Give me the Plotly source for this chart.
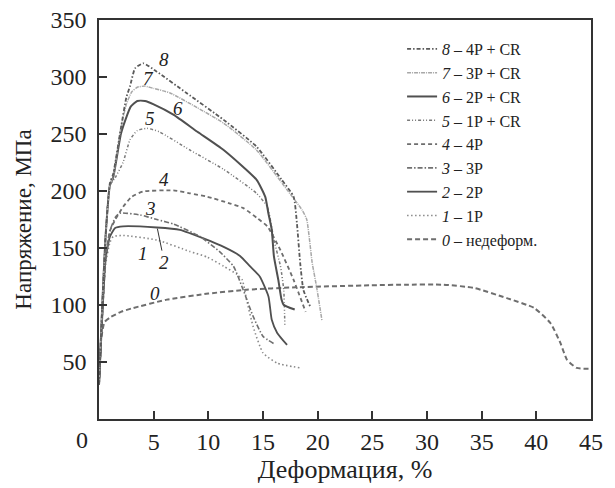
import plotly.graph_objects as go

# ---- data (strain %, stress MPa) ----
x0 = [0, 0.2, 0.5, 1, 2, 3, 6.2, 10, 13.5, 18, 24.8, 28, 31.5, 34.3, 37.3, 39.8, 41.3, 42.2, 42.8, 43.7, 45]
y0 = [30, 70, 85, 89, 94, 97, 104.7, 110, 113.4, 115.5, 117.3, 117.8, 117.8, 115, 106, 97.4, 84, 66.7, 52, 44.8, 44]

x1 = [0, 0.3, 0.6, 1.0, 1.3, 2.2, 5.3, 8.3, 9.9, 11.4, 12.6, 13.1, 13.5, 14.1, 15.0, 16.3, 18.4]
y1 = [30, 90, 135, 155, 160, 161, 157, 147, 142, 134, 127, 122, 104.6, 81, 58, 49, 44.8]

x2 = [0, 0.3, 0.6, 1.0, 1.47, 2.2, 5.3, 7.4, 8.3, 11.4, 12.9, 13.8, 14.7, 15.5, 15.8, 16.3, 17.2]
y2 = [30, 90, 140, 160, 167.5, 169, 168, 166, 163, 151, 143, 134, 125, 107.5, 87, 75.5, 65]

x3 = [0, 0.3, 0.6, 1.0, 1.5, 1.9, 3.75, 5.3, 6.8, 9.25, 11.0, 12.3, 13.2, 14.1, 15.0, 16.0]
y3 = [30, 90, 140, 165, 177, 180.6, 179, 175, 171, 160, 147, 134, 113, 90, 72.5, 66]

x4 = [0, 0.3, 0.6, 1.0, 1.5, 2.2, 3.0, 4.06, 6.8, 8.3, 9.9, 12.0, 13.2, 14.5, 15.4, 16.6, 17.8, 18.9]
y4 = [30, 90, 140, 165, 175, 186, 195, 199.6, 200.5, 198, 195, 189, 185, 176, 169, 148, 122, 94]

x5 = [0, 0.3, 0.6, 1.0, 1.5, 2.2, 2.84, 3.5, 4.4, 5.5, 8.3, 11.4, 14.4, 15.4, 16.0, 16.6, 16.9, 17.0]
y5 = [30, 100, 160, 205, 212, 225, 245, 253, 255, 252, 236, 219, 198, 186, 157, 134, 113, 81]

x6 = [0, 0.3, 0.6, 1.0, 1.3, 2.0, 2.4, 2.9, 3.5, 4.2, 5.0, 6.8, 9.0, 11.4, 14.4, 15.2, 15.5, 15.8, 16.0, 16.4, 16.7, 16.9, 17.9]
y6 = [30, 100, 160, 205, 212, 250, 262, 274, 279, 279, 276, 267, 252, 236, 210, 195, 180, 166, 142.6, 122, 104.6, 100, 96]

x7 = [0, 0.3, 0.6, 1.0, 1.3, 2.0, 2.5, 3.0, 3.5, 4.2, 5.0, 6.5, 9.0, 11.4, 14.4, 17.2, 18.6, 19.0, 19.5, 19.9, 20.4]
y7 = [30, 100, 160, 205, 213, 255, 276, 287, 291, 292, 290, 286, 273, 259.5, 236, 201, 183, 175, 137, 116, 86]

x8 = [0, 0.3, 0.6, 1.0, 1.3, 2.0, 2.5, 2.84, 3.3, 4.06, 5.28, 8.0, 11.4, 14.4, 16.7, 17.8, 18.1, 18.4, 18.7, 19.3]
y8 = [30, 100, 160, 207, 215, 255, 282, 292, 307.7, 312, 304.7, 286, 262.4, 239, 210, 195, 172, 137, 113, 99]

series_names = ["0 – недеформ.", "1 – 1P", "2 – 2P", "3 – 3P", "4 – 4P",
                "5 – 1P + CR", "6 – 2P + CR", "7 – 3P + CR", "8 – 4P + CR"]
xs = [x0, x1, x2, x3, x4, x5, x6, x7, x8]
ys = [y0, y1, y2, y3, y4, y5, y6, y7, y8]

x_ticks = [5, 10, 15, 20, 25, 30, 35, 40, 45]
y_ticks = [50, 100, 150, 200, 250, 300, 350]

colors = ["#6e6e6e", "#8a8a8a", "#505050", "#707070", "#6e6e6e",
          "#7a7a7a", "#505050", "#a8a8a8", "#5a5a5a"]
dashes = ["5px,3px", "1.5px,2.5px", "solid", "5px,2px,1.5px,2px", "4px,3px",
          "3px,2px,1px,2px,1px,2px", "solid", "4px,1px,1px,1px", "4px,2px,1.5px,2px"]
widths = [2, 1.6, 1.8, 1.6, 1.8, 1.5, 2, 1.5, 1.8]

# curve label positions
lab_text = ["0", "1", "3", "4", "5", "6", "7", "8"]
lab_x = [5.1, 4.0, 4.7, 5.9, 4.7, 7.2, 4.5, 5.9]
lab_y = [110.5, 145.6, 185, 210, 264, 272.6, 299, 315]

FONT = "Liberation Serif"

fig = go.Figure()
for i in range(9):
    num, rest = series_names[i].split(" ", 1)
    fig.add_trace(go.Scatter(
        x=xs[i], y=ys[i], mode="lines",
        name=f"<i>{num}</i> {rest}",
        line=dict(color=colors[i], dash=dashes[i], width=widths[i],
                  shape="spline", smoothing=0.5),
    ))

for t, lx, ly in zip(lab_text, lab_x, lab_y):
    fig.add_annotation(x=lx, y=ly, text=f"<i>{t}</i>", showarrow=False,
                       font=dict(family=FONT, size=19, color="#222"))
# label 2 with leader line
fig.add_annotation(x=5.34, y=167, text="<i>2</i>", showarrow=True, arrowhead=0,
                   arrowwidth=1, arrowcolor="#333", ax=7, ay=34, standoff=0,
                   font=dict(family=FONT, size=19, color="#222"))
# shared origin label
fig.add_annotation(x=-0.035, y=-0.052, xref="paper", yref="paper", text="0",
                   xanchor="center", yanchor="middle", showarrow=False,
                   font=dict(family=FONT, size=24, color="#222"))

axis_common = dict(showline=True, mirror=True, linecolor="#333", linewidth=1.5,
                   ticks="inside", ticklen=8, tickcolor="#333", tickwidth=1.5,
                   showgrid=False, zeroline=False, automargin=False,
                   ticklabeloverflow="allow",
                   tickfont=dict(family=FONT, size=24, color="#222"))

fig.update_layout(
    width=615, height=488,
    margin=dict(l=91, r=32, t=12, b=76.6),
    paper_bgcolor="white", plot_bgcolor="white",
    showlegend=True,
    legend=dict(x=0.616, y=0.970, xanchor="left", yanchor="top",
                traceorder="reversed", bgcolor="rgba(0,0,0,0)",
                font=dict(family=FONT, size=16, color="#222"),
                tracegroupgap=0),
    xaxis=dict(range=[0, 45], tickvals=x_ticks, ticklabelstandoff=0,
               title=dict(text="Деформация, %", standoff=4,
                          font=dict(family=FONT, size=26, color="#222")),
               **axis_common),
    yaxis=dict(range=[0, 350], tickvals=y_ticks, ticklabelstandoff=6,
               title=dict(text="Напряжение, МПа", standoff=12,
                          font=dict(family=FONT, size=23, color="#222")),
               **axis_common),
)

fig.write_html("out.html")
